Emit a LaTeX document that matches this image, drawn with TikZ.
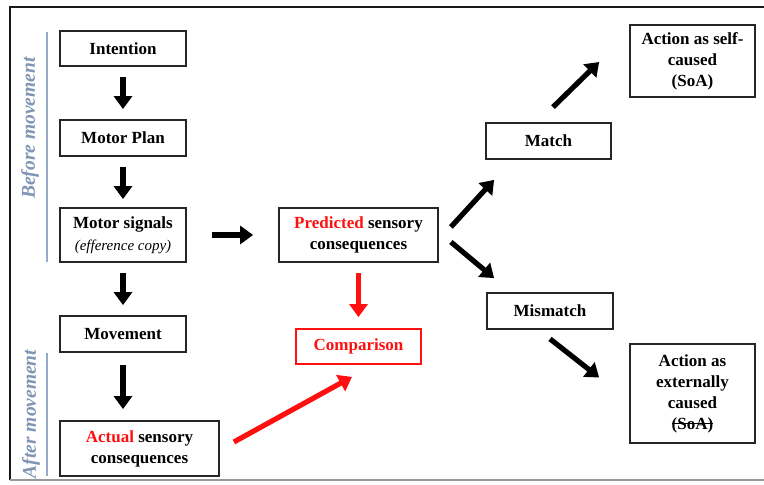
\documentclass[tikz,border=0pt]{standalone}
\usepackage{fontspec}
\setmainfont{Liberation Serif}
\usetikzlibrary{arrows.meta,calc}
\definecolor{sidetxt}{HTML}{8094B4}
\definecolor{sideline}{HTML}{93AACB}
\definecolor{rd}{HTML}{FF1010}
\newsavebox{\strkbox}
\newcommand{\mystrike}[1]{\sbox{\strkbox}{#1}\rlap{\raisebox{0.3em}{\rule{\wd\strkbox}{1.3pt}}}\usebox{\strkbox}}
\begin{document}
\begin{tikzpicture}[x=1pt,y=1pt,
  box/.style={draw=black!85,line width=1.8pt,align=center,inner sep=0pt,
    font=\fontsize{17}{21}\selectfont\bfseries},
  redbox/.style={box,draw=rd,text=rd},
  arr/.style={line width=5.2pt,-{Triangle[length=13pt,width=18pt]}},
  redarr/.style={arr,draw=rd,color=rd},
  sidelab/.style={rotate=90,text=sidetxt,font=\fontsize{19.5}{22}\selectfont\bfseries\itshape},
  sidebar/.style={draw=sideline,line width=1.6pt}]
\useasboundingbox (0,0) rectangle (764,485);
% frame
\draw[line width=2pt,black!90] (10,5) -- (10,478) -- (764,478);
\draw[line width=1.5pt,black!40] (10,5) -- (764,5);
% side labels
\node[sidelab] (before) at (30,357) {Before movement};
\coordinate (bt) at (47,453);
\coordinate (bb) at (47,223);
\draw[sidebar] (bt) -- (bb);
\node[sidelab] (after) at (31,71) {After movement};
\coordinate (at) at (47,132);
\coordinate (ab) at (47,9);
\draw[sidebar] (at) -- (ab);
% boxes
\node[box,minimum width=126pt,minimum height=35pt] (int) at (123,436.5) {Intention};
\node[box,minimum width=126pt,minimum height=36pt] (plan) at (123,347) {Motor Plan};
\node[box,minimum width=126pt,minimum height=54pt] (sig) at (123,250)
  {Motor signals\\[1pt]{\fontsize{15}{18}\selectfont\mdseries\itshape (efference copy)}};
\node[box,minimum width=126pt,minimum height=36pt] (mov) at (123,151) {Movement};
\node[box,minimum width=159pt,minimum height=55pt] (act) at (139.5,36.5)
  {{\color{rd}Actual} sensory\\consequences};
\node[box,minimum width=159pt,minimum height=54pt] (pred) at (358.5,250)
  {{\color{rd}Predicted} sensory\\consequences};
\node[redbox,minimum width=125pt,minimum height=35pt] (comp) at (358.5,138.5) {Comparison};
\node[box,minimum width=125pt,minimum height=36pt] (match) at (548.5,344) {Match};
\node[box,minimum width=126pt,minimum height=36pt] (mis) at (550,174) {Mismatch};
\node[box,minimum width=125pt,minimum height=72pt] (self) at (692.5,424)
  {Action as self-\\caused\\(SoA)};
\node[box,minimum width=125pt,minimum height=99pt] (ext) at (692.5,91.5)
  {Action as\\externally\\caused\\\mystrike{(SoA)}};
% arrows
\draw[arr,shorten <=10pt,shorten >=10pt] (int.south) -- (plan.north);
\draw[arr,shorten <=10pt,shorten >=8pt] (plan.south) -- (sig.north);
\draw[arr,shorten <=10pt,shorten >=10pt] (sig.south) -- (mov.north);
\draw[arr,shorten <=12pt,shorten >=11pt] (mov.south) -- (mov.south |- act.north);
\draw[arr,shorten <=25pt,shorten >=25pt] (sig.east) -- (pred.west);
\draw[redarr,shorten <=10pt,shorten >=11pt] (pred.south) -- (comp.north);
\draw[redarr] ($(act.east)+(14,6.5)$) -- ($(comp.south)+(-6.5,-12)$);
\draw[arr] ($(pred.east)+(12,8)$) -- ($(match.south west)+(9,-20)$);
\draw[arr] ($(pred.east)+(12,-7)$) -- ($(mis.north west)+(8,14)$);
\draw[arr] ($(match.north)+(4.5,15)$) -- ($(self.west)+(-30,-1)$);
\draw[arr] ($(mis.south)+(0,-9)$) -- ($(ext.west)+(-30,16)$);
\end{tikzpicture}
\end{document}
